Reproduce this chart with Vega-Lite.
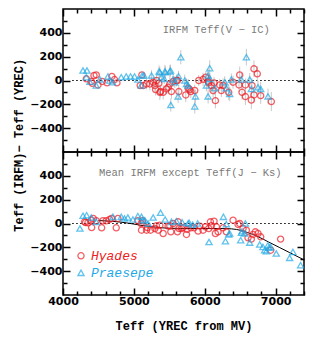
{
  "$schema": "https://vega.github.io/schema/vega-lite/v6.json",
  "padding": {"left": 12, "top": 7, "right": 8, "bottom": 5},
  "config": {
    "view": {"stroke": "black", "strokeWidth": 1.5},
    "axis": {"domain": false, "grid": false, "tickColor": "black", "tickWidth": 1.5, "labelFont": "DejaVu Sans", "labelFontWeight": "bold", "labelFontSize": 11, "labelColor": "black", "titleFont": "Liberation Mono", "titleFontWeight": "bold", "titleFontSize": 12, "titleColor": "black", "labelOverlap": false, "labelFlush": false, "labelBound": false}
  },
  "datasets": {
    "zero": [{"x1": 4130, "x2": 7380, "y": 0}],
    "top": [
      {"x":4329,"y":14,"g":"Hyades"},{"x":4399,"y":-8,"g":"Hyades"},{"x":4413,"y":-23,"g":"Hyades"},{"x":4437,"y":42,"g":"Hyades"},{"x":4469,"y":47,"g":"Hyades"},{"x":4493,"y":-37,"g":"Hyades"},{"x":4554,"y":-8,"g":"Hyades"},{"x":4620,"y":-20,"g":"Hyades"},{"x":4690,"y":34,"g":"Hyades"},{"x":4727,"y":8,"g":"Hyades"},{"x":4761,"y":-20,"g":"Hyades"},{"x":5089,"y":-42,"g":"Hyades"},{"x":5113,"y":47,"g":"Hyades"},{"x":5131,"y":-42,"g":"Hyades"},
      {"x":5178,"y":-29,"g":"Hyades","e":45},{"x":5225,"y":-29,"g":"Hyades","e":55},{"x":5272,"y":-14,"g":"Hyades","e":40},{"x":5296,"y":-42,"g":"Hyades","e":60},{"x":5306,"y":-76,"g":"Hyades","e":50},{"x":5320,"y":0,"g":"Hyades","e":45},{"x":5352,"y":-23,"g":"Hyades","e":55},{"x":5366,"y":-99,"g":"Hyades","e":65},{"x":5376,"y":-93,"g":"Hyades","e":50},{"x":5413,"y":-99,"g":"Hyades","e":60},{"x":5460,"y":-71,"g":"Hyades","e":45},{"x":5483,"y":-57,"g":"Hyades","e":55},{"x":5507,"y":-29,"g":"Hyades","e":50},{"x":5530,"y":-93,"g":"Hyades","e":60},{"x":5554,"y":-8,"g":"Hyades","e":45},{"x":5601,"y":0,"g":"Hyades","e":50},{"x":5615,"y":0,"g":"Hyades","e":40},{"x":5634,"y":-93,"g":"Hyades","e":55},{"x":5732,"y":-121,"g":"Hyades","e":60},{"x":5765,"y":-65,"g":"Hyades","e":50},{"x":5789,"y":-76,"g":"Hyades","e":45},{"x":5803,"y":-93,"g":"Hyades","e":55},{"x":5859,"y":-84,"g":"Hyades","e":50},{"x":5915,"y":0,"g":"Hyades","e":45},{"x":5976,"y":10,"g":"Hyades","e":55},{"x":6014,"y":28,"g":"Hyades","e":50},{"x":6047,"y":-8,"g":"Hyades","e":60},{"x":6056,"y":-20,"g":"Hyades","e":45},{"x":6094,"y":-42,"g":"Hyades","e":50},{"x":6117,"y":-84,"g":"Hyades","e":55},{"x":6131,"y":-20,"g":"Hyades","e":50},{"x":6150,"y":-169,"g":"Hyades","e":65},{"x":6211,"y":-37,"g":"Hyades","e":50},{"x":6234,"y":-84,"g":"Hyades","e":55},{"x":6258,"y":-42,"g":"Hyades","e":60},{"x":6338,"y":-99,"g":"Hyades","e":65},{"x":6399,"y":-14,"g":"Hyades","e":55},{"x":6483,"y":-37,"g":"Hyades","e":60},{"x":6493,"y":47,"g":"Hyades","e":70},{"x":6526,"y":-99,"g":"Hyades","e":60},{"x":6573,"y":-37,"g":"Hyades","e":55},{"x":6573,"y":-135,"g":"Hyades","e":70},{"x":6657,"y":-164,"g":"Hyades","e":75},{"x":6666,"y":-42,"g":"Hyades","e":60},{"x":6694,"y":-121,"g":"Hyades","e":65},{"x":6694,"y":98,"g":"Hyades","e":70},{"x":6741,"y":56,"g":"Hyades","e":65},{"x":6789,"y":-127,"g":"Hyades","e":70},{"x":6939,"y":-177,"g":"Hyades","e":80},
      {"x":4282,"y":84,"g":"Praesepe"},{"x":4338,"y":84,"g":"Praesepe"},{"x":4329,"y":28,"g":"Praesepe"},{"x":4380,"y":-10,"g":"Praesepe"},{"x":4469,"y":-42,"g":"Praesepe"},{"x":4520,"y":10,"g":"Praesepe"},{"x":4634,"y":34,"g":"Praesepe"},{"x":4657,"y":0,"g":"Praesepe"},{"x":4700,"y":-15,"g":"Praesepe"},{"x":4822,"y":28,"g":"Praesepe"},{"x":4892,"y":34,"g":"Praesepe"},{"x":4953,"y":34,"g":"Praesepe"},{"x":5009,"y":34,"g":"Praesepe"},{"x":5056,"y":8,"g":"Praesepe"},{"x":5103,"y":-42,"g":"Praesepe"},{"x":5117,"y":42,"g":"Praesepe"},{"x":5141,"y":42,"g":"Praesepe"},
      {"x":5249,"y":42,"g":"Praesepe","e":45},{"x":5356,"y":76,"g":"Praesepe","e":50},{"x":5366,"y":70,"g":"Praesepe","e":45},{"x":5389,"y":28,"g":"Praesepe","e":50},{"x":5427,"y":14,"g":"Praesepe","e":45},{"x":5437,"y":76,"g":"Praesepe","e":55},{"x":5446,"y":70,"g":"Praesepe","e":50},{"x":5507,"y":76,"g":"Praesepe","e":55},{"x":5517,"y":84,"g":"Praesepe","e":50},{"x":5521,"y":-206,"g":"Praesepe","e":55},{"x":5554,"y":8,"g":"Praesepe","e":45},{"x":5577,"y":-14,"g":"Praesepe","e":50},{"x":5624,"y":-133,"g":"Praesepe","e":55},{"x":5630,"y":36,"g":"Praesepe","e":45},{"x":5662,"y":196,"g":"Praesepe","e":60},{"x":5718,"y":0,"g":"Praesepe","e":50},{"x":5742,"y":-29,"g":"Praesepe","e":45},{"x":5765,"y":-42,"g":"Praesepe","e":55},{"x":5859,"y":-217,"g":"Praesepe","e":60},{"x":5869,"y":-133,"g":"Praesepe","e":55},{"x":6023,"y":-42,"g":"Praesepe","e":50},{"x":6047,"y":42,"g":"Praesepe","e":55},{"x":6047,"y":-133,"g":"Praesepe","e":60},{"x":6070,"y":104,"g":"Praesepe","e":65},{"x":6070,"y":14,"g":"Praesepe","e":50},{"x":6141,"y":-65,"g":"Praesepe","e":55},{"x":6282,"y":-14,"g":"Praesepe","e":50},{"x":6305,"y":-65,"g":"Praesepe","e":55},{"x":6352,"y":-113,"g":"Praesepe","e":60},{"x":6375,"y":8,"g":"Praesepe","e":50},{"x":6516,"y":8,"g":"Praesepe","e":55},{"x":6587,"y":196,"g":"Praesepe","e":70},{"x":6634,"y":8,"g":"Praesepe","e":55},{"x":6657,"y":-71,"g":"Praesepe","e":60},{"x":6751,"y":-57,"g":"Praesepe","e":55},{"x":6789,"y":-71,"g":"Praesepe","e":60},{"x":6892,"y":-133,"g":"Praesepe","e":65}
    ],
    "bot": [
      {"x":4305,"y":14,"g":"Hyades"},{"x":4319,"y":8,"g":"Hyades"},{"x":4352,"y":6,"g":"Hyades"},{"x":4399,"y":28,"g":"Hyades"},{"x":4404,"y":-34,"g":"Hyades"},{"x":4427,"y":42,"g":"Hyades"},{"x":4469,"y":23,"g":"Hyades"},{"x":4545,"y":-36,"g":"Hyades"},{"x":4563,"y":23,"g":"Hyades"},{"x":4610,"y":23,"g":"Hyades"},{"x":4657,"y":34,"g":"Hyades"},{"x":4685,"y":42,"g":"Hyades"},{"x":4751,"y":-36,"g":"Hyades"},{"x":4775,"y":42,"g":"Hyades"},{"x":5056,"y":23,"g":"Hyades"},{"x":5103,"y":0,"g":"Hyades"},{"x":5108,"y":-56,"g":"Hyades"},{"x":5122,"y":23,"g":"Hyades"},{"x":5178,"y":-56,"g":"Hyades"},{"x":5190,"y":-34,"g":"Hyades"},{"x":5235,"y":-56,"g":"Hyades"},{"x":5296,"y":-42,"g":"Hyades"},{"x":5319,"y":-19,"g":"Hyades"},{"x":5343,"y":-56,"g":"Hyades"},{"x":5366,"y":-14,"g":"Hyades"},{"x":5413,"y":-84,"g":"Hyades"},{"x":5483,"y":-22,"g":"Hyades"},{"x":5507,"y":-19,"g":"Hyades"},{"x":5521,"y":-70,"g":"Hyades"},{"x":5554,"y":0,"g":"Hyades"},{"x":5615,"y":-70,"g":"Hyades"},{"x":5624,"y":14,"g":"Hyades"},{"x":5638,"y":-42,"g":"Hyades"},{"x":5671,"y":-42,"g":"Hyades"},{"x":5695,"y":-34,"g":"Hyades"},{"x":5742,"y":-92,"g":"Hyades"},{"x":5750,"y":-50,"g":"Hyades"},{"x":5803,"y":-36,"g":"Hyades"},{"x":5850,"y":-36,"g":"Hyades"},{"x":5906,"y":-64,"g":"Hyades"},{"x":5930,"y":-22,"g":"Hyades"},{"x":5976,"y":-56,"g":"Hyades"},{"x":6009,"y":-28,"g":"Hyades"},{"x":6056,"y":-42,"g":"Hyades"},{"x":6080,"y":14,"g":"Hyades"},{"x":6094,"y":-19,"g":"Hyades"},{"x":6131,"y":20,"g":"Hyades"},{"x":6150,"y":-84,"g":"Hyades"},{"x":6164,"y":-28,"g":"Hyades"},{"x":6188,"y":-70,"g":"Hyades"},{"x":6258,"y":-36,"g":"Hyades"},{"x":6305,"y":-70,"g":"Hyades"},{"x":6399,"y":28,"g":"Hyades"},{"x":6470,"y":-8,"g":"Hyades"},{"x":6493,"y":0,"g":"Hyades"},{"x":6540,"y":-42,"g":"Hyades"},{"x":6587,"y":-56,"g":"Hyades"},{"x":6610,"y":-120,"g":"Hyades"},{"x":6657,"y":-131,"g":"Hyades"},{"x":6681,"y":-92,"g":"Hyades"},{"x":6714,"y":-70,"g":"Hyades"},{"x":6751,"y":-84,"g":"Hyades"},{"x":6789,"y":-112,"g":"Hyades"},{"x":6930,"y":-224,"g":"Hyades"},{"x":7070,"y":-131,"g":"Hyades"},
      {"x":4239,"y":-42,"g":"Praesepe"},{"x":4282,"y":65,"g":"Praesepe"},{"x":4333,"y":70,"g":"Praesepe"},{"x":4399,"y":50,"g":"Praesepe"},{"x":4469,"y":14,"g":"Praesepe"},{"x":4704,"y":56,"g":"Praesepe"},{"x":4822,"y":56,"g":"Praesepe"},{"x":4868,"y":42,"g":"Praesepe"},{"x":4915,"y":50,"g":"Praesepe"},{"x":4986,"y":34,"g":"Praesepe"},{"x":5056,"y":62,"g":"Praesepe"},{"x":5108,"y":56,"g":"Praesepe"},{"x":5127,"y":28,"g":"Praesepe"},{"x":5155,"y":28,"g":"Praesepe"},{"x":5200,"y":0,"g":"Praesepe"},{"x":5272,"y":50,"g":"Praesepe"},{"x":5376,"y":90,"g":"Praesepe"},{"x":5441,"y":34,"g":"Praesepe"},{"x":5530,"y":14,"g":"Praesepe"},{"x":5600,"y":20,"g":"Praesepe"},{"x":5680,"y":10,"g":"Praesepe"},{"x":5765,"y":0,"g":"Praesepe"},{"x":5779,"y":6,"g":"Praesepe"},{"x":5830,"y":-10,"g":"Praesepe"},{"x":5900,"y":0,"g":"Praesepe"},{"x":6060,"y":-155,"g":"Praesepe"},{"x":6263,"y":56,"g":"Praesepe"},{"x":6291,"y":-148,"g":"Praesepe"},{"x":6305,"y":-5,"g":"Praesepe"},{"x":6338,"y":-92,"g":"Praesepe"},{"x":6352,"y":-84,"g":"Praesepe"},{"x":6507,"y":-140,"g":"Praesepe"},{"x":6517,"y":-78,"g":"Praesepe"},{"x":6526,"y":-64,"g":"Praesepe"},{"x":6563,"y":-84,"g":"Praesepe"},{"x":6573,"y":0,"g":"Praesepe"},{"x":6634,"y":-160,"g":"Praesepe"},{"x":6775,"y":-176,"g":"Praesepe"},{"x":6821,"y":-196,"g":"Praesepe"},{"x":6845,"y":-224,"g":"Praesepe"},{"x":6868,"y":-232,"g":"Praesepe"},{"x":6892,"y":-182,"g":"Praesepe"},{"x":6906,"y":-202,"g":"Praesepe"},{"x":6930,"y":-196,"g":"Praesepe"},{"x":7009,"y":-252,"g":"Praesepe"},{"x":7197,"y":-288,"g":"Praesepe"},{"x":7244,"y":-238,"g":"Praesepe"},{"x":7352,"y":-350,"g":"Praesepe"}
    ],
    "curve": [
      {"x":4500,"y":25},{"x":4700,"y":18},{"x":4900,"y":5},{"x":5100,"y":-15},{"x":5300,"y":-30},{"x":5500,"y":-40},{"x":5800,"y":-42},{"x":6100,"y":-42},{"x":6300,"y":-43},{"x":6450,"y":-50},{"x":6600,"y":-75},{"x":6750,"y":-110},{"x":6900,"y":-155},{"x":7050,"y":-200},{"x":7200,"y":-245},{"x":7400,"y":-305}
    ],
    "legend": [
      {"x":4254,"y":-271,"tx":4394,"g":"Hyades"},
      {"x":4254,"y":-414,"tx":4394,"g":"Praesepe"}
    ],
    "notes": [
      {"x":5408,"y":424,"p":"top","t":"IRFM Teff(V − IC)"},
      {"x":4507,"y":426,"p":"bot","t":"Mean IRFM except Teff(J − Ks)"}
    ]
  },
  "spacing": 0,
  "bounds": "flush",
  "vconcat": [
    {
      "width": 241, "height": 143,
      "resolve": {"axis": {"x": "independent", "y": "independent"}},
      "layer": [
        {
          "data": {"name": "zero"},
          "mark": {"type": "rule", "strokeDash": [1.5, 2.5], "strokeWidth": 1.2, "color": "black"},
          "encoding": {
            "x": {"field": "x1", "type": "quantitative", "scale": {"domain": [4000, 7400], "nice": false, "zero": false}, "axis": {"orient": "top", "values": [4000,4200,4400,4600,4800,5000,5200,5400,5600,5800,6000,6200,6400,6600,6800,7000,7200,7400], "labels": false, "title": null, "tickSize": {"condition": {"test": "datum.value % 1000 === 0", "value": -7}, "value": -4}}},
            "x2": {"field": "x2"},
            "y": {"field": "y", "type": "quantitative", "scale": {"domain": [-600, 600], "nice": false}, "axis": {"orient": "right", "values": [-500,-400,-300,-200,-100,0,100,200,300,400,500], "labels": false, "title": null, "tickSize": {"condition": {"test": "datum.value % 200 === 0", "value": -7}, "value": -4}}}
          }
        },
        {
          "data": {"name": "top"},
          "transform": [{"filter": "isValid(datum.e)"}],
          "mark": {"type": "errorbar", "color": "#c8c8c8", "thickness": 1},
          "encoding": {
            "x": {"field": "x", "type": "quantitative", "scale": {"domain": [4000, 7400], "nice": false, "zero": false}, "axis": null},
            "y": {"field": "y", "type": "quantitative", "scale": {"domain": [-600, 600], "nice": false}, "axis": null},
            "yError": {"field": "e"}
          }
        },
        {
          "data": {"name": "top"},
          "mark": {"type": "point", "filled": false, "strokeWidth": 1.3, "size": 38},
          "encoding": {
            "x": {"field": "x", "type": "quantitative", "scale": {"domain": [4000, 7400], "nice": false, "zero": false}, "axis": {"orient": "bottom", "values": [4000,4200,4400,4600,4800,5000,5200,5400,5600,5800,6000,6200,6400,6600,6800,7000,7200,7400], "labels": false, "title": null, "tickSize": {"condition": {"test": "datum.value % 1000 === 0", "value": -7}, "value": -4}}},
            "y": {"field": "y", "type": "quantitative", "scale": {"domain": [-600, 600], "nice": false}, "axis": {"orient": "left", "values": [-500,-400,-300,-200,-100,0,100,200,300,400,500], "labelExpr": "datum.value % 200 === 0 && abs(datum.value) <= 400 ? datum.label : ''", "labelPadding": 8, "title": "\u00a0− Teff (YREC)", "titleAnchor": "start", "titlePadding": 4, "tickSize": {"condition": {"test": "datum.value % 200 === 0", "value": -7}, "value": -4}}},
            "color": {"field": "g", "type": "nominal", "scale": {"domain": ["Hyades", "Praesepe"], "range": ["#ee1c24", "#1fa9e6"]}, "legend": null},
            "shape": {"field": "g", "type": "nominal", "scale": {"domain": ["Hyades", "Praesepe"], "range": ["circle", "triangle-up"]}, "legend": null}
          }
        },
        {
          "data": {"name": "notes"},
          "transform": [{"filter": "datum.p === 'top'"}],
          "mark": {"type": "text", "align": "left", "baseline": "middle", "font": "Liberation Mono", "fontSize": 10.5, "color": "#7a7a7a"},
          "encoding": {
            "x": {"field": "x", "type": "quantitative", "scale": {"domain": [4000, 7400], "nice": false, "zero": false}, "axis": null},
            "y": {"field": "y", "type": "quantitative", "scale": {"domain": [-600, 600], "nice": false}, "axis": null},
            "text": {"field": "t"}
          }
        }
      ]
    },
    {
      "width": 241, "height": 143,
      "resolve": {"axis": {"x": "independent", "y": "independent"}},
      "layer": [
        {
          "data": {"name": "zero"},
          "mark": {"type": "rule", "strokeDash": [1.5, 2.5], "strokeWidth": 1.2, "color": "black"},
          "encoding": {
            "x": {"field": "x1", "type": "quantitative", "scale": {"domain": [4000, 7400], "nice": false, "zero": false}, "axis": {"orient": "top", "values": [4000,4200,4400,4600,4800,5000,5200,5400,5600,5800,6000,6200,6400,6600,6800,7000,7200,7400], "labels": false, "title": null, "tickSize": {"condition": {"test": "datum.value % 1000 === 0", "value": -7}, "value": -4}}},
            "x2": {"field": "x2"},
            "y": {"field": "y", "type": "quantitative", "scale": {"domain": [-600, 600], "nice": false}, "axis": {"orient": "right", "values": [-500,-400,-300,-200,-100,0,100,200,300,400,500], "labels": false, "title": null, "tickSize": {"condition": {"test": "datum.value % 200 === 0", "value": -7}, "value": -4}}}
          }
        },
        {
          "data": {"name": "curve"},
          "mark": {"type": "line", "color": "black", "strokeWidth": 1, "interpolate": "monotone"},
          "encoding": {
            "x": {"field": "x", "type": "quantitative", "scale": {"domain": [4000, 7400], "nice": false, "zero": false}, "axis": null},
            "y": {"field": "y", "type": "quantitative", "scale": {"domain": [-600, 600], "nice": false}, "axis": null}
          }
        },
        {
          "data": {"name": "bot"},
          "mark": {"type": "point", "filled": false, "strokeWidth": 1.3, "size": 38},
          "encoding": {
            "x": {"field": "x", "type": "quantitative", "scale": {"domain": [4000, 7400], "nice": false, "zero": false}, "axis": {"orient": "bottom", "values": [4000,4200,4400,4600,4800,5000,5200,5400,5600,5800,6000,6200,6400,6600,6800,7000,7200,7400], "format": "d", "labelExpr": "datum.value % 1000 === 0 ? datum.label : ''", "labelPadding": 7, "title": "Teff (YREC from MV)", "titlePadding": 11, "tickSize": {"condition": {"test": "datum.value % 1000 === 0", "value": -7}, "value": -4}}},
            "y": {"field": "y", "type": "quantitative", "scale": {"domain": [-600, 600], "nice": false}, "axis": {"orient": "left", "values": [-500,-400,-300,-200,-100,0,100,200,300,400,500], "labelExpr": "datum.value % 200 === 0 && abs(datum.value) <= 400 ? datum.label : ''", "labelPadding": 8, "title": "Teff (IRFM)\u00a0", "titleAnchor": "end", "titlePadding": 4, "tickSize": {"condition": {"test": "datum.value % 200 === 0", "value": -7}, "value": -4}}},
            "color": {"field": "g", "type": "nominal", "scale": {"domain": ["Hyades", "Praesepe"], "range": ["#ee1c24", "#1fa9e6"]}, "legend": null},
            "shape": {"field": "g", "type": "nominal", "scale": {"domain": ["Hyades", "Praesepe"], "range": ["circle", "triangle-up"]}, "legend": null}
          }
        },
        {
          "data": {"name": "notes"},
          "transform": [{"filter": "datum.p === 'bot'"}],
          "mark": {"type": "text", "align": "left", "baseline": "middle", "font": "Liberation Mono", "fontSize": 10.5, "color": "#7a7a7a"},
          "encoding": {
            "x": {"field": "x", "type": "quantitative", "scale": {"domain": [4000, 7400], "nice": false, "zero": false}, "axis": null},
            "y": {"field": "y", "type": "quantitative", "scale": {"domain": [-600, 600], "nice": false}, "axis": null},
            "text": {"field": "t"}
          }
        },
        {
          "data": {"name": "legend"},
          "mark": {"type": "point", "filled": false, "strokeWidth": 1.3, "size": 38},
          "encoding": {
            "x": {"field": "x", "type": "quantitative", "scale": {"domain": [4000, 7400], "nice": false, "zero": false}, "axis": null},
            "y": {"field": "y", "type": "quantitative", "scale": {"domain": [-600, 600], "nice": false}, "axis": null},
            "color": {"field": "g", "type": "nominal", "scale": {"domain": ["Hyades", "Praesepe"], "range": ["#ee1c24", "#1fa9e6"]}, "legend": null},
            "shape": {"field": "g", "type": "nominal", "scale": {"domain": ["Hyades", "Praesepe"], "range": ["circle", "triangle-up"]}, "legend": null}
          }
        },
        {
          "data": {"name": "legend"},
          "mark": {"type": "text", "align": "left", "baseline": "middle", "font": "Liberation Mono", "fontStyle": "italic", "fontSize": 13},
          "encoding": {
            "x": {"field": "tx", "type": "quantitative", "scale": {"domain": [4000, 7400], "nice": false, "zero": false}, "axis": null},
            "y": {"field": "y", "type": "quantitative", "scale": {"domain": [-600, 600], "nice": false}, "axis": null},
            "text": {"field": "g"},
            "color": {"field": "g", "type": "nominal", "scale": {"domain": ["Hyades", "Praesepe"], "range": ["#ee1c24", "#1fa9e6"]}, "legend": null}
          }
        }
      ]
    }
  ]
}
